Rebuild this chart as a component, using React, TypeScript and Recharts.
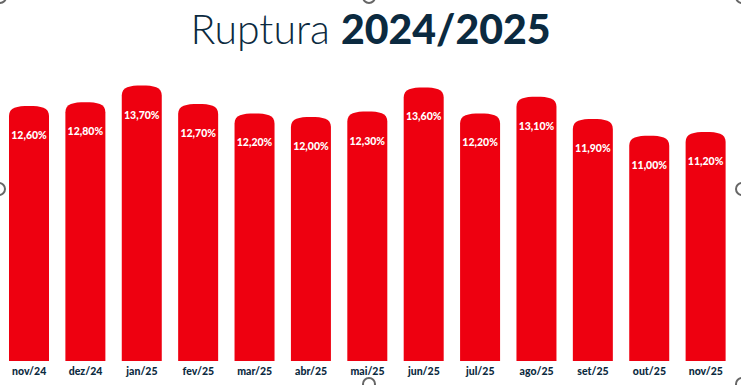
import React from "react";
import { BarChart, Bar, XAxis, YAxis, LabelList } from "recharts";

const months = ["nov/24", "dez/24", "jan/25", "fev/25", "mar/25", "abr/25", "mai/25", "jun/25", "jul/25", "ago/25", "set/25", "out/25", "nov/25"];
const ruptura = [12.6, 12.8, 13.7, 12.7, 12.2, 12.0, 12.3, 13.6, 12.2, 13.1, 11.9, 11.0, 11.2];

const data = months.map((m, i) => ({ month: m, value: ruptura[i] }));

const NAVY = "#0b2a40";
const RED = "#ee0010";

const CapBar = (props: any) => {
  const { x, y, width, height, background } = props;
  const bottom = background ? background.y + background.height : y + height;
  const ry = 10;
  const d = `M${x},${bottom} L${x},${y + ry} C${x},${y + ry * 0.15} ${x + width * 0.2},${y} ${x + width / 2},${y} C${x + width * 0.8},${y} ${x + width},${y + ry * 0.15} ${x + width},${y + ry} L${x + width},${bottom} Z`;
  return <path d={d} fill={RED} />;
};

const ValueLabel = (props: any) => {
  const { x, y, width, value } = props;
  const txt = Number(value).toFixed(2).replace(".", ",") + "%";
  return (
    <text x={x + width / 2} y={y + 33} textAnchor="middle" fill="#ffffff" fontSize={10.5} fontWeight={900} fontFamily="Lato, sans-serif">
      {txt}
    </text>
  );
};

const handles: [number, number][] = [[-1, 189], [742, 189], [369, -3], [369, 384], [742, 384], [0, -3], [742, -3]];

export default function App() {
  return (
    <div style={{ position: "fixed", left: 0, top: 0, width: 741, height: 385, background: "#ffffff", overflow: "hidden" }}>
      <div style={{ position: "absolute", left: 0, top: 3, width: 741, textAlign: "center", fontFamily: "Lato, sans-serif", fontSize: 41, color: NAVY, lineHeight: "52px", letterSpacing: 0 }}>
        <span style={{ fontWeight: 300 }}>Ruptura </span>
        <span style={{ fontWeight: 900 }}>2024/2025</span>
      </div>
      <div style={{ position: "absolute", left: 0, top: 0 }}>
        <BarChart width={741} height={385} data={data} margin={{ top: 80, right: 7, bottom: 4, left: 1 }}>
          <YAxis hide domain={[-1.15, 14]} />
          <XAxis dataKey="month" axisLine={false} tickLine={false} tickSize={0} tickMargin={7} height={20} interval={0}
            tick={{ fill: NAVY, fontSize: 10.5, fontWeight: 900, fontFamily: "Lato, sans-serif" }} />
          <Bar dataKey="value" barSize={40} shape={<CapBar />} isAnimationActive={false}>
            <LabelList dataKey="value" content={<ValueLabel />} />
          </Bar>
        </BarChart>
      </div>
      <svg width={741} height={385} style={{ position: "absolute", left: 0, top: 0, pointerEvents: "none" }}>
        {handles.map(([cx, cy], i) => (
          <circle key={i} cx={cx} cy={cy} r={6} fill="none" stroke="#666666" strokeWidth={2} />
        ))}
      </svg>
    </div>
  );
}
